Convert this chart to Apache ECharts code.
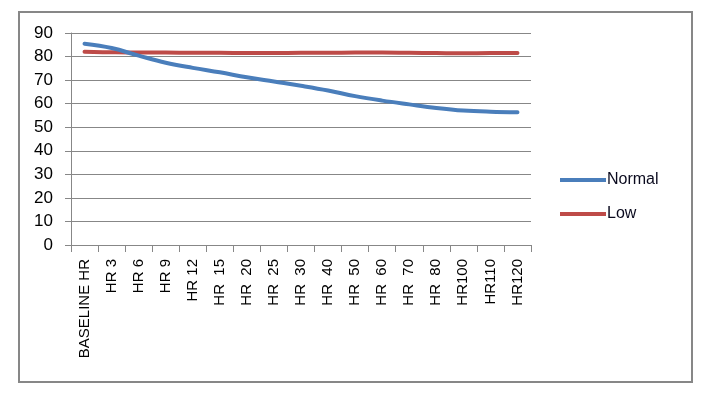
<!DOCTYPE html>
<html><head><meta charset="utf-8">
<script src="https://cdn.jsdelivr.net/npm/echarts@6/dist/echarts.min.js"></script>
<style>
html,body{margin:0;padding:0;background:#fff;}
#frame{position:absolute;left:18px;top:11px;width:671px;height:368px;border:2px solid #878787;box-sizing:content-box;}
#c{position:absolute;left:0;top:0;width:708px;height:394px;}
</style></head>
<body>
<div id="frame"></div>
<div id="c"></div>
<script>
const categories = ["BASELINE HR","HR 3","HR 6","HR 9","HR 12","HR  15","HR  20","HR  25","HR  30","HR  40","HR  50","HR  60","HR  70","HR  80","HR100","HR110","HR120"];
const normalValues = [85.4, 83.6, 80.4, 77.4, 75.2, 73.3, 71.2, 69.4, 67.6, 65.6, 63.2, 61.3, 59.7, 58.2, 57.1, 56.6, 56.4];
const lowValues = [82.0, 81.8, 81.7, 81.7, 81.6, 81.6, 81.5, 81.5, 81.6, 81.6, 81.7, 81.7, 81.6, 81.5, 81.4, 81.5, 81.5];
const seriesNames = ["Normal","Low"];
const yMin = 0, yMax = 90, yStep = 10;

const chart = echarts.init(document.getElementById('c'), null, {renderer:'canvas'});
const font = 'Liberation Sans';
chart.setOption({
  animation:false,
  textStyle:{fontFamily:font},
  grid:{left:71, top:33, width:460, height:212, containLabel:false},
  legend:{
    orient:'vertical', left:555, top:167, itemGap:18, itemWidth:46, itemHeight:4,
    icon:'rect',
    textStyle:{fontFamily:font, fontSize:16, color:'#0a0a1e', padding:[0,0,0,-4]},
    data:seriesNames
  },
  xAxis:{
    type:'category', data:categories, boundaryGap:true,
    axisLine:{lineStyle:{color:'#878787', width:1}},
    axisTick:{show:true, length:7, lineStyle:{color:'#878787'}, alignWithLabel:false},
    axisLabel:{rotate:90, interval:0, margin:14, fontSize:15, color:'#000', fontFamily:font}
  },
  yAxis:{
    type:'value', min:yMin, max:yMax, interval:yStep,
    axisLine:{show:true, lineStyle:{color:'#878787'}},
    axisTick:{show:true, length:6, lineStyle:{color:'#878787'}},
    splitLine:{lineStyle:{color:'#878787', width:1}},
    axisLabel:{fontSize:17, color:'#000', margin:18, fontFamily:font}
  },
  series:[
    {name:seriesNames[0], type:'line', data:normalValues, smooth:0.4, symbol:'none',
     lineStyle:{color:'#4A7EBB', width:4, cap:'round'}, itemStyle:{color:'#4A7EBB'}, z:3},
    {name:seriesNames[1], type:'line', data:lowValues, smooth:0.4, symbol:'none',
     lineStyle:{color:'#BE4B48', width:4, cap:'round'}, itemStyle:{color:'#BE4B48'}, z:2}
  ]
});
</script>
</body></html>
